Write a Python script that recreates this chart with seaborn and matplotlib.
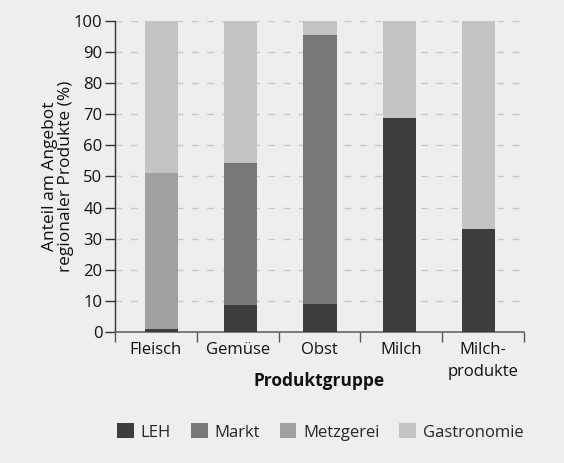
import numpy as np
import pandas as pd
import matplotlib
matplotlib.use("Agg")
import matplotlib.pyplot as plt
import seaborn as sns
from matplotlib.patches import Patch

# data (percent shares per product group)
groups = ["Fleisch", "Gemüse", "Obst", "Milch", "Milch-\nprodukte"]
leh = [1.0, 8.7, 9.0, 68.8, 33.1]
markt = [0.0, 45.6, 86.5, 0.0, 0.0]
metzgerei = [50.0, 0.0, 0.0, 0.0, 0.0]
gastronomie = [49.0, 45.7, 4.5, 31.2, 66.9]

series = ["LEH", "Markt", "Metzgerei", "Gastronomie"]
colors = ["#3d3d3d", "#777777", "#a0a0a0", "#c3c3c3"]

df = pd.DataFrame({"LEH": leh, "Markt": markt, "Metzgerei": metzgerei,
                   "Gastronomie": gastronomie}, index=groups)
cum = df.cumsum(axis=1)

bg = "#eeeeee"
sns.set_theme(style="white")
plt.rcParams["font.family"] = ["Open Sans", "DejaVu Sans"]

fig = plt.figure(figsize=(5.64, 4.63), dpi=100, facecolor=bg)
ax = fig.add_axes([0.204, 0.283, 0.725, 0.672])
ax.set_facecolor(bg)

# stacked bars: draw cumulative totals from the top layer down
for name, col in reversed(list(zip(series, colors))):
    sns.barplot(x=list(cum.index), y=cum[name].values, color=col,
                width=0.42, ax=ax, saturation=1, edgecolor="none", zorder=3)

ax.set_ylim(0, 100)
x0, x1 = -0.587, 4.574
ax.set_xlim(x0, x1)
ax.set_yticks(np.arange(0, 101, 10))
ax.yaxis.grid(True, linestyle=(0, (5, 6)), color="#c8c8c8", linewidth=1, zorder=0)
ax.tick_params(axis="y", length=7, width=1, color="#333333", labelsize=12,
               pad=2, labelcolor="#111111", left=True)

# category boundaries span the axis evenly; labels sit between them
bounds = np.linspace(x0, x1, len(groups) + 1)
ax.set_xticks((bounds[:-1] + bounds[1:]) / 2)
ax.set_xticklabels(groups, fontsize=12, color="#111111", linespacing=1.55)
ax.tick_params(axis="x", length=0, pad=7)
ax.set_xticks(bounds, minor=True)
ax.tick_params(axis="x", which="minor", length=7, width=1, color="#555555",
               bottom=True)

for s in ["top", "right"]:
    ax.spines[s].set_visible(False)
ax.spines["left"].set_color("#333333")
ax.spines["bottom"].set_color("#666666")
ax.spines["left"].set_linewidth(1)
ax.spines["bottom"].set_linewidth(1.2)

ax.set_xlabel("Produktgruppe", fontsize=12.5, fontweight="bold", color="#111111")
ax.xaxis.set_label_coords(0.5, -0.13)
ax.set_ylabel("Anteil am Angebot\nregionaler Produkte (%)", fontsize=12.5,
              color="#111111", linespacing=1.0)
ax.yaxis.set_label_coords(-0.1, 0.5)

handles = [Patch(facecolor=c, edgecolor="none", label=s) for s, c in zip(series, colors)]
fig.legend(handles=handles, loc="center", bbox_to_anchor=(0.568, 0.067), ncol=4,
           frameon=False, fontsize=12, handlelength=1.0, handleheight=1.0,
           handletextpad=0.4, columnspacing=1.2)

fig.savefig("out.png", dpi=100, facecolor=bg)
